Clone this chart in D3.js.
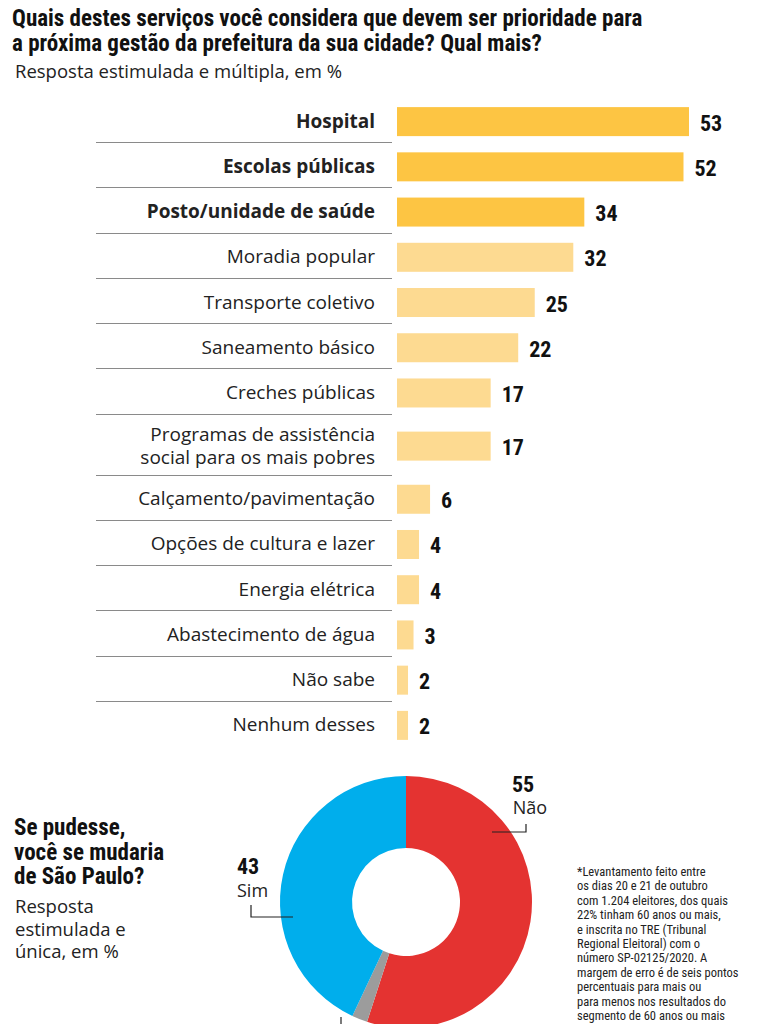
<!DOCTYPE html>
<html><head><meta charset="utf-8">
<script src="https://cdn.jsdelivr.net/npm/d3@7"></script>
<style>body{margin:0;background:#fff}svg{display:block}</style>
</head><body><svg id="c" width="768" height="1024"></svg>
<script>
const categories = ["Hospital","Escolas públicas","Posto/unidade de saúde","Moradia popular","Transporte coletivo","Saneamento básico","Creches públicas","Programas de assistência\nsocial para os mais pobres","Calçamento/pavimentação","Opções de cultura e lazer","Energia elétrica","Abastecimento de água","Não sabe","Nenhum desses"];
const values = [53,52,34,32,25,22,17,17,6,4,4,3,2,2];
const highlightCount = 3;

const donutLabels = ["Não","Não sabe","Sim"];
const donutValues = [55,2,43];

const titleLines = ["Quais destes serviços você considera que devem ser prioridade para","a próxima gestão da prefeitura da sua cidade? Qual mais?"];
const subtitle = "Resposta estimulada e múltipla, em %";
const donutTitle = ["Se pudesse,","você se mudaria","de São Paulo?"];
const donutSub = ["Resposta","estimulada e","única, em %"];
const footnote = ["*Levantamento feito entre","os dias 20 e 21 de outubro","com 1.204 eleitores, dos quais","22% tinham 60 anos ou mais,","e inscrita no TRE (Tribunal","Regional Eleitoral) com o","número SP-02125/2020. A","margem de erro é de seis pontos","percentuais para mais ou","para menos nos resultados do","segmento de 60 anos ou mais"];

const COND = "'Liberation Sans Narrow','Roboto Condensed','Roboto',sans-serif";
const BODY = "'Open Sans','Noto Sans',sans-serif";
const DARK = "#FDC543", LIGHT = "#FDDA91", TXT = "#222";

const svg = d3.select("#c");

// Title
svg.append("g").selectAll("text").data(titleLines).join("text")
  .attr("x",12).attr("y",(d,i)=>26+i*25)
  .style("font-family",COND).style("font-weight",700).style("font-size","23px").attr("fill","#111")
  .text(d=>d);
svg.append("text").attr("x",15).attr("y",78).text(subtitle)
  .style("font-family",BODY).style("font-size","18.5px").attr("fill",TXT);

// Bars
const lines = categories.map(c=>c.split("\n"));
const units = lines.map(l=>1+(l.length-1)*0.35);
const starts = units.map((u,i)=>d3.sum(units.slice(0,i)));
const y = d3.scaleLinear().domain([0,d3.sum(units)]).range([97,746]);
const x = d3.scaleLinear().domain([0,53]).range([397,689]);
const rowC = i => (y(starts[i])+y(starts[i]+units[i]))/2;

const rows = svg.append("g").selectAll("g").data(categories).join("g");
rows.append("rect")
  .attr("x",x(0)).attr("y",(d,i)=>rowC(i)+2-14.5)
  .attr("width",(d,i)=>x(values[i])-x(0)).attr("height",29)
  .attr("fill",(d,i)=>i<highlightCount?DARK:LIGHT);
rows.append("text")
  .attr("x",(d,i)=>x(values[i])+11).attr("y",(d,i)=>rowC(i)+11)
  .style("font-family",COND).style("font-weight",700).style("font-size","22px").attr("fill","#111")
  .text((d,i)=>values[i]);
rows.each(function(d,i){
  const g=d3.select(this);
  const L=lines[i], n=L.length, lh=23;
  g.append("text").attr("text-anchor","end")
   .style("font-family",BODY).style("font-size","19px")
   .style("font-weight",i<highlightCount?700:400).attr("fill",TXT)
   .selectAll("tspan").data(L).join("tspan")
   .attr("x",375).attr("y",(t,j)=>rowC(i)+8+(j-(n-1)/2)*lh).text(t=>t);
});
// separators
svg.append("g").selectAll("line").data(categories.slice(1)).join("line")
  .attr("x1",96).attr("x2",392)
  .attr("y1",(d,i)=>Math.round(y(starts[i+1]))+0.5).attr("y2",(d,i)=>Math.round(y(starts[i+1]))+0.5)
  .attr("stroke","#8a8a8a").attr("stroke-width",1.2);

// Donut
const cx=406, cy=902, R=126, r=54;
const pie = d3.pie().sort(null).value(d=>d)(donutValues);
const arc = d3.arc().innerRadius(r).outerRadius(R);
const dcol = d3.scaleOrdinal().domain(donutLabels).range(["#E43331","#9C9C9C","#00AEEC"]);
const dg = svg.append("g").attr("transform",`translate(${cx},${cy})`);
dg.selectAll("path").data(pie).join("path").attr("d",arc).attr("fill",(d,i)=>dcol(donutLabels[i]));

// donut labels and leaders
const ln = (pts)=>dg.append("path").attr("d",d3.line()(pts)).attr("fill","none").attr("stroke","#222").attr("stroke-width",1.2);
ln([[86,-70],[120,-70],[120,-78]]);
ln([[-113,15],[-155,15],[-155,3]]);
ln([[-65,115],[-65,125]]);
dg.append("text").attr("x",117).attr("y",-110).attr("text-anchor","middle")
  .style("font-family",COND).style("font-weight",700).style("font-size","22px").attr("fill","#111").text(donutValues[0]);
dg.append("text").attr("x",124).attr("y",-88).attr("text-anchor","middle")
  .style("font-family",BODY).style("font-size","18px").attr("fill",TXT).text(donutLabels[0]);
dg.append("text").attr("x",-169).attr("y",-28)
  .style("font-family",COND).style("font-weight",700).style("font-size","22px").attr("fill","#111").text(donutValues[2]);
dg.append("text").attr("x",-169).attr("y",-5)
  .style("font-family",BODY).style("font-size","18px").attr("fill",TXT).text(donutLabels[2]);

// left text
svg.append("g").selectAll("text").data(donutTitle).join("text")
  .attr("x",14).attr("y",(d,i)=>835+i*24.5)
  .style("font-family",COND).style("font-weight",700).style("font-size","23px").attr("fill","#111").text(d=>d);
svg.append("g").selectAll("text").data(donutSub).join("text")
  .attr("x",15).attr("y",(d,i)=>913+i*22.5)
  .style("font-family",BODY).style("font-size","18.5px").attr("fill",TXT).text(d=>d);

// footnote
svg.append("g").selectAll("text").data(footnote).join("text")
  .attr("x",577).attr("y",(d,i)=>876+i*14.4)
  .style("font-family",COND).style("font-size","12.5px").attr("fill",TXT).text(d=>d);
</script></body></html>
